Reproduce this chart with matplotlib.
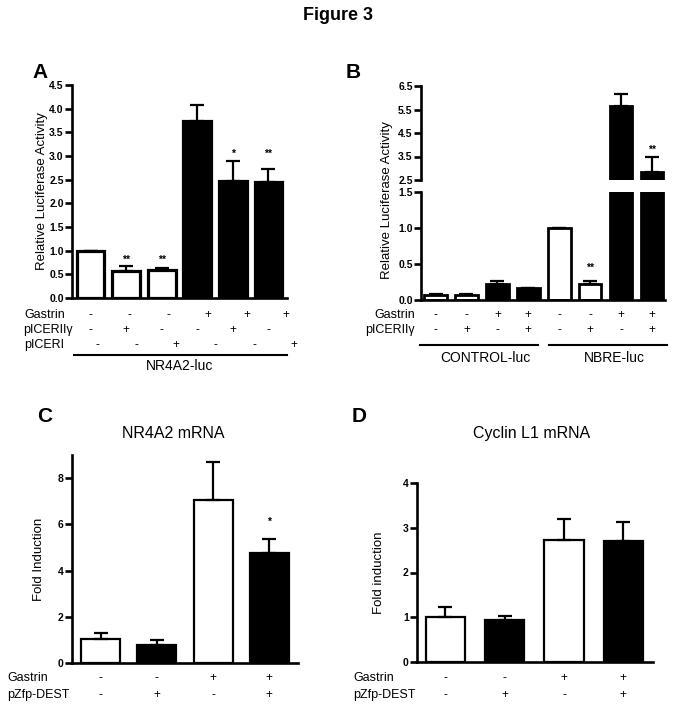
import matplotlib
matplotlib.use("Agg")
import matplotlib.pyplot as plt
import matplotlib.transforms as mtrans
from matplotlib.ticker import FormatStrFormatter
import numpy as np

plt.rcParams['font.family'] = ['Liberation Sans', 'DejaVu Sans']

# Panel A: NR4A2-luc
a_vals = [1.0, 0.58, 0.59, 3.75, 2.47, 2.45]
a_err = [0.0, 0.10, 0.04, 0.32, 0.43, 0.28]
a_fill = ['white', 'white', 'white', 'black', 'black', 'black']
a_stars = ['', '**', '**', '', '*', '**']
a_star_y = [0, 0.80, 0.80, 0, 3.05, 3.05]
a_gastrin = ['-', '-', '-', '+', '+', '+']
a_picer2 = ['-', '+', '-', '-', '+', '-']
a_picer1 = ['-', '-', '+', '-', '-', '+']

# Panel B: CONTROL-luc / NBRE-luc
b_vals = [0.07, 0.07, 0.22, 0.16, 1.0, 0.22, 5.65, 2.85]
b_err = [0.01, 0.01, 0.05, 0.01, 0.0, 0.04, 0.5, 0.63]
b_fill = ['white', 'white', 'black', 'black', 'white', 'white', 'black', 'black']
b_stars = ['', '', '', '', '', '**', '', '**']
b_star_y = [0, 0, 0, 0, 0, 0.44, 0, 3.8]
b_gastrin = ['-', '-', '+', '+', '-', '-', '+', '+']
b_picer2 = ['-', '+', '-', '+', '-', '+', '-', '+']
b_groups = ['CONTROL-luc', 'NBRE-luc']

# Panel C: NR4A2 mRNA
c_vals = [1.05, 0.80, 7.05, 4.75]
c_err = [0.25, 0.20, 1.65, 0.60]
c_stars = ['', '', '', '*']
c_star_y = [0, 0, 0, 6.1]

# Panel D: Cyclin L1 mRNA
d_vals = [1.0, 0.93, 2.73, 2.70]
d_err = [0.24, 0.09, 0.46, 0.42]

cd_fill = ['white', 'black', 'white', 'black']
cd_gastrin = ['-', '-', '+', '+']
cd_zfp = ['-', '+', '-', '+']

W, H = 676, 709
fig = plt.figure(figsize=(W / 100, H / 100), dpi=100)


def box(x0, x1, ytop, ybot):
    return [x0 / W, 1 - ybot / H, (x1 - x0) / W, (ybot - ytop) / H]


def fy(py):
    return 1 - py / H


def style(ax, spines=('left', 'bottom')):
    for s in ['left', 'right', 'top', 'bottom']:
        ax.spines[s].set_visible(s in spines)
        ax.spines[s].set_linewidth(1.9)
    ax.tick_params(axis='y', direction='out', length=5, width=1.9, pad=1, labelsize=7.5)
    ax.tick_params(axis='x', bottom=False, labelbottom=False)
    for lbl in ax.get_yticklabels():
        lbl.set_fontweight('bold')


def bars(ax, vals, err, fill, width, lw):
    x = np.arange(len(vals))
    ax.bar(x, vals, width=width, color=fill, edgecolor='black', linewidth=lw, zorder=2)
    ax.errorbar(x, vals, yerr=[np.zeros(len(vals)), err], fmt='none', ecolor='black',
                elinewidth=1.6, capsize=5, capthick=1.6, zorder=3)
    return x


def stars(ax, stars_, ys):
    lo, hi = ax.get_ylim()
    for i, (s, y) in enumerate(zip(stars_, ys)):
        if s and lo <= y <= hi:
            ax.text(i, y, s, ha='center', va='center', fontsize=7.5, fontweight='bold')


def sign_row(ax, xs, signs, py, size=8.5):
    tr = mtrans.blended_transform_factory(ax.transData, fig.transFigure)
    for x, s in zip(xs, signs):
        ax.text(x, fy(py), s, transform=tr, ha='center', va='center', fontsize=size)


fig.text(0.5, fy(16), 'Figure 3', ha='center', va='center', fontsize=13, fontweight='bold')

# ---- Panel A
axA = fig.add_axes(box(72, 287, 85, 298))
xa = bars(axA, a_vals, a_err, a_fill, 0.78, 2.3)
axA.set_xlim(-0.52, 5.52)
axA.set_ylim(0, 4.5)
axA.set_yticks(np.arange(0, 4.51, 0.5))
axA.yaxis.set_major_formatter(FormatStrFormatter('%.1f'))
axA.set_ylabel('Relative Luciferase Activity', fontsize=9.5, labelpad=1)
style(axA)
stars(axA, a_stars, a_star_y)
fig.text(40 / W, fy(73), 'A', fontsize=15, fontweight='bold', ha='center', va='center')
fig.text(24 / W, fy(315), 'Gastrin', fontsize=9, va='center')
fig.text(23 / W, fy(330), 'pICERIIγ', fontsize=9, va='center')
fig.text(24 / W, fy(345), 'pICERI', fontsize=9, va='center')
sign_row(axA, xa * 1.1, a_gastrin, 315)
sign_row(axA, xa, a_picer2, 330)
sign_row(axA, xa * 1.1 + 0.2, a_picer1, 345)
trA = mtrans.blended_transform_factory(axA.transData, fig.transFigure)
axA.plot([-0.45, 5.52], [fy(355), fy(355)], color='black', lw=1.5, transform=trA, clip_on=False)
axA.text(2.5, fy(366), 'NR4A2-luc', transform=trA, ha='center', va='center', fontsize=10)

# ---- Panel B (broken axis)
axBt = fig.add_axes(box(421, 665, 86, 180))
axBb = fig.add_axes(box(421, 665, 192, 300))
for ax in (axBt, axBb):
    xb = bars(ax, b_vals, b_err, b_fill, 0.73, 2.0)
    ax.set_xlim(-0.47, 7.42)
axBt.set_ylim(2.5, 6.5)
axBt.set_yticks([2.5, 3.5, 4.5, 5.5, 6.5])
axBb.set_ylim(0, 1.5)
axBb.set_yticks([0, 0.5, 1.0, 1.5])
for ax in (axBt, axBb):
    ax.yaxis.set_major_formatter(FormatStrFormatter('%.1f'))
    stars(ax, b_stars, b_star_y)
style(axBt, spines=('left',))
style(axBb)
fig.text(387 / W, fy(200), 'Relative Luciferase Activity', rotation=90,
         fontsize=9.5, ha='center', va='center')
fig.text(353 / W, fy(73), 'B', fontsize=15, fontweight='bold', ha='center', va='center')
fig.text(415 / W, fy(315), 'Gastrin', fontsize=9, ha='right', va='center')
fig.text(415 / W, fy(330), 'pICERIIγ', fontsize=9, ha='right', va='center')
sign_row(axBb, xb, b_gastrin, 315)
sign_row(axBb, xb, b_picer2, 330)
trB = mtrans.blended_transform_factory(axBb.transData, fig.transFigure)
for (x0, x1), name in zip([(-0.5, 3.32), (3.67, 7.49)], b_groups):
    axBb.plot([x0, x1], [fy(345), fy(345)], color='black', lw=1.5, transform=trB, clip_on=False)
    axBb.text((x0 + x1) / 2 + 0.2, fy(358), name, transform=trB, ha='center', va='center', fontsize=10)

# ---- Panel C
axC = fig.add_axes(box(72, 298, 455, 663))
xc = bars(axC, c_vals, c_err, cd_fill, 0.69, 1.6)
axC.set_xlim(-0.51, 3.51)
axC.set_ylim(0, 9)
axC.set_yticks([0, 2, 4, 6, 8])
axC.set_ylabel('Fold Induction', fontsize=9.5, labelpad=9)
style(axC)
stars(axC, c_stars, c_star_y)
fig.text(173 / W, fy(433), 'NR4A2 mRNA', fontsize=11.5, ha='center', va='center')
fig.text(45 / W, fy(416), 'C', fontsize=15, fontweight='bold', ha='center', va='center')
fig.text(7 / W, fy(678), 'Gastrin', fontsize=9, va='center')
fig.text(7 / W, fy(695), 'pZfp-DEST', fontsize=9, va='center')
sign_row(axC, xc, cd_gastrin, 678)
sign_row(axC, xc, cd_zfp, 695)

# ---- Panel D
axD = fig.add_axes(box(417, 653, 483, 662))
xd = bars(axD, d_vals, d_err, cd_fill, 0.66, 1.6)
axD.set_xlim(-0.48, 3.5)
axD.set_ylim(0, 4)
axD.set_yticks([0, 1, 2, 3, 4])
axD.set_ylabel('Fold induction', fontsize=9.5, labelpad=13)
style(axD)
fig.text(532 / W, fy(433), 'Cyclin L1 mRNA', fontsize=11.5, ha='center', va='center')
fig.text(359 / W, fy(416), 'D', fontsize=15, fontweight='bold', ha='center', va='center')
fig.text(353 / W, fy(678), 'Gastrin', fontsize=9, va='center')
fig.text(353 / W, fy(695), 'pZfp-DEST', fontsize=9, va='center')
sign_row(axD, xd, cd_gastrin, 678)
sign_row(axD, xd, cd_zfp, 695)

fig.savefig('out.png', dpi=100)
